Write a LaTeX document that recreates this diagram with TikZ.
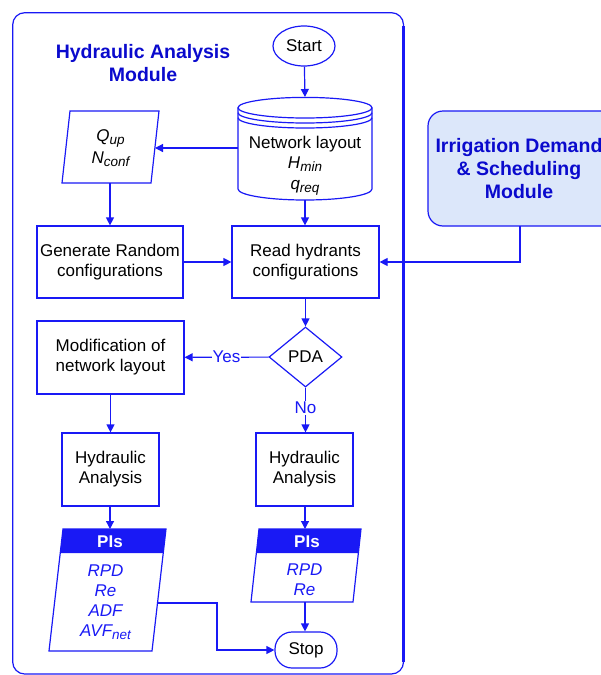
\documentclass[tikz,border=0pt]{standalone}
\usepackage{fontspec}
\setmainfont{Liberation Sans}
\usetikzlibrary{arrows.meta,shapes.geometric}
\definecolor{lb}{RGB}{25,25,245}
\definecolor{tb}{RGB}{10,10,205}
\definecolor{fillb}{RGB}{220,231,250}
\newcommand\sbs[1]{\raisebox{-0.35ex}{\fontsize{13.5}{14}\selectfont #1}}
\begin{document}
\begin{tikzpicture}[x=1pt,y=-1pt,
  ln/.style={draw=lb,line width=1.2pt},
  arr/.style={ln,-{Triangle[length=8pt,width=8pt]}},
  body/.style={font=\fontsize{17}{20}\selectfont},
  ibody/.style={font=\fontsize{17}{20}\selectfont\itshape},
  box/.style={ln,rectangle,inner sep=0pt,align=center,body},
  txt/.style={align=center,inner sep=0pt,body},
  lbl/.style={text=lb,inner sep=1pt,body,fill=white},
  ttl/.style={align=center,inner sep=0pt,text=tb,font=\fontsize{19.5}{23}\selectfont\bfseries}]
\useasboundingbox (0,0) rectangle (601,675);
\clip (0,0) rectangle (601,675);
% frame
\draw[ln,rounded corners=12pt] (12.7,12.7) rectangle (403.5,674);
\draw[lb,line width=2.6pt] (403.5,26) -- (403.5,662);
\node[ttl] (title) at (143,63) {Hydraulic Analysis\\Module};
% start
\node[ln,ellipse,minimum width=62pt,minimum height=40pt,inner sep=0pt,body] (start) at (304,46) {Start};
% cylinder
\draw[ln,fill=white] (238,107.7) -- (238,189) arc[start angle=180,end angle=360,x radius=67pt,y radius=11pt] -- (372,107.7);
\draw[ln] (305,107.7) ellipse [x radius=67pt, y radius=10.3pt];
\draw[ln] (238,112.7) arc[start angle=180,end angle=360,x radius=67pt,y radius=10.3pt];
\draw[ln] (238,117.7) arc[start angle=180,end angle=360,x radius=67pt,y radius=10.3pt];
\node[txt] (net) at (305,166) {Network layout\\\textit{H\sbs{min}}\\[1pt]\textit{q\sbs{req}}};
\coordinate (nettop) at (305,97);
\coordinate (netleft) at (238,148);
\coordinate (netbot) at (305,200);
% Q_up parallelogram
\draw[ln] (70,111) -- (159,111) -- (151,183) -- (62,183) -- cycle;
\node[txt,ibody] (q) at (110.5,148) {Q\sbs{up}\\[2pt]N\sbs{conf}};
\coordinate (qright) at (155,148);
\coordinate (qbot) at (110,183);
% boxes
\node[box,minimum width=146pt,minimum height=72pt] (gen) at (110,262) {Generate Random\\configurations};
\node[box,minimum width=147pt,minimum height=72pt] (read) at (305.5,262) {Read hydrants\\configurations};
\node[ln,diamond,minimum width=73pt,minimum height=60pt,inner sep=0pt,body] (pda) at (305.5,357) {PDA};
\node[box,minimum width=147pt,minimum height=73pt] (mod) at (110.5,357.5) {Modification of\\network layout};
\node[box,minimum width=97pt,minimum height=73pt] (hydL) at (110.5,469.5) {Hydraulic\\Analysis};
\node[box,minimum width=97pt,minimum height=73pt] (hydR) at (304.5,469.5) {Hydraulic\\Analysis};
% irrigation module
\node[ln,fill=fillb,rounded corners=15pt,minimum width=187pt,minimum height=115pt] (irr) at (521.5,168.5) {};
\node[ttl] (irrt) at (519,169) {Irrigation Demand\\\& Scheduling\\Module};
\coordinate (irrb) at (520,226);
% PIs left
\fill[lb] (63,529) -- (166,529) -- (163.2,553) -- (60.2,553) -- cycle;
\draw[ln] (63,529) -- (166,529) -- (152,651) -- (49,651) -- cycle;
\node[txt,text=white,font=\fontsize{17}{20}\selectfont\bfseries] (pisL) at (110,542) {PIs};
\node[txt,ibody,text=lb] (pisLb) at (105.5,602) {RPD\\Re\\ADF\\AVF\sbs{net}};
\coordinate (pisLtop) at (110,529);
\coordinate (pisLr) at (157.5,603);
% PIs right
\fill[lb] (259,529) -- (361,529) -- (358.4,553) -- (256.4,553) -- cycle;
\draw[ln] (259,529) -- (361,529) -- (353,602) -- (251,602) -- cycle;
\node[txt,text=white,font=\fontsize{17}{20}\selectfont\bfseries] (pisR) at (307,542) {PIs};
\node[txt,ibody,text=lb] (pisRb) at (304.5,580) {RPD\\Re};
\coordinate (pisRtop) at (305,529);
\coordinate (pisRbot) at (305,602);
% stop
\node[ln,rectangle,rounded corners=17pt,minimum width=62pt,minimum height=36pt,inner sep=0pt,body] (stop) at (306,650) {Stop};
% connectors
\draw[arr] (start) -- (nettop);
\draw[arr] (netleft) -- (qright);
\draw[arr] (qbot) -- (gen);
\draw[arr] (netbot) -- (read.north -| netbot);
\draw[arr] (gen) -- (read);
\draw[arr] (irrb) |- (read.east);
\draw[arr] (read.south -| pda) -- (pda);
\draw[arr] (pda) -- node[lbl] (yes) {Yes} (mod);
\draw[arr] (pda.south) -- node[lbl,pos=0.45] (no) {No} (hydR.north -| pda.south);
\draw[arr] (mod) -- (hydL.north -| mod);
\draw[arr] (hydL.south -| pisLtop) -- (pisLtop);
\draw[arr] (hydR.south -| pisRtop) -- (pisRtop);
\draw[arr] (pisRbot) -- (stop.north -| pisRbot);
\draw[arr] (pisLr) -- (217,603) |- (stop.west);
\end{tikzpicture}
\end{document}
